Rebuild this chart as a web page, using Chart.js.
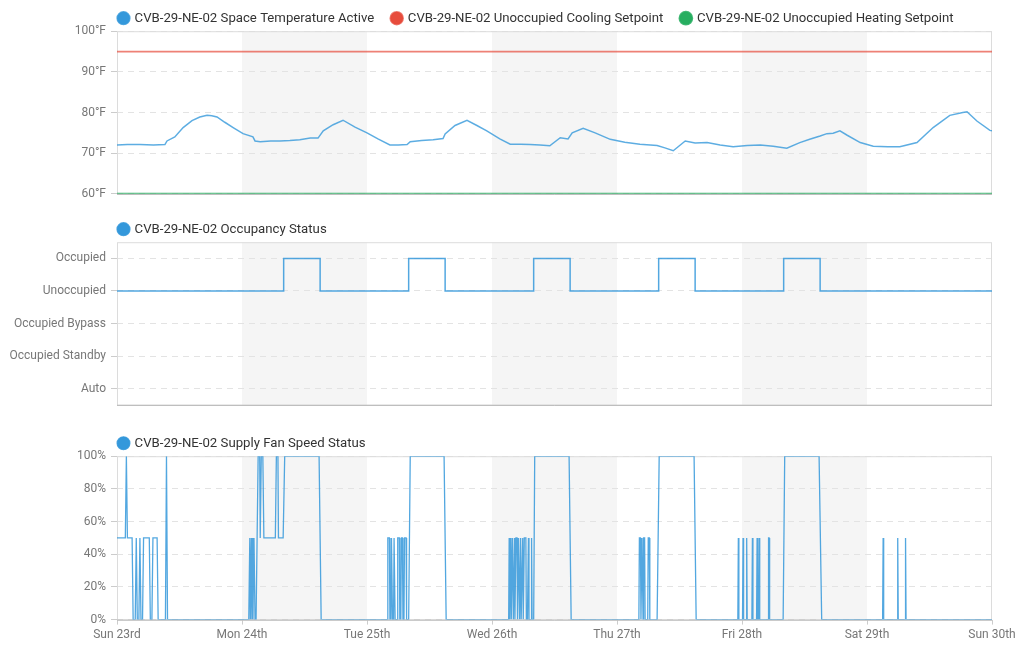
<!DOCTYPE html>
<html>
<head>
<meta charset="utf-8">
<script src="https://cdn.jsdelivr.net/npm/chart.js@4.4.1/dist/chart.umd.min.js"></script>
<style>
  html, body { margin: 0; padding: 0; background: #fff; }
  #wrap { position: relative; width: 1024px; height: 647px; overflow: hidden; }
  #wrap canvas { position: absolute; left: 0; }
</style>
</head>
<body>
<div id="wrap">
  <canvas id="temp-chart" width="1024" height="216" style="top:-10px"></canvas>
  <canvas id="occ-chart" width="1024" height="216" style="top:201px"></canvas>
  <canvas id="fan-chart" width="1024" height="232" style="top:415px"></canvas>
</div>
<script>
// x values are hours since Sun 23rd 00:00
const dayLabels = ['Sun 23rd', 'Mon 24th', 'Tue 25th', 'Wed 26th', 'Thu 27th', 'Fri 28th', 'Sat 29th', 'Sun 30th'];
const shadedDays = [1, 3, 5];

const tempSeries = [
  [0, 72.0], [2.0, 72.1], [4.4, 72.1], [7.0, 72.0], [9.2, 72.1], [9.6, 73.0], [11.1, 74.0], [12.7, 76.3],
  [14.4, 78.0], [15.9, 78.9], [17.3, 79.3], [18.2, 79.2], [19.2, 78.9], [20.7, 77.6], [22.3, 76.3],
  [24.2, 74.8], [26.1, 74.0], [26.5, 73.0], [27.5, 72.8], [29.5, 73.0], [31.3, 73.0], [33.2, 73.1],
  [35.1, 73.3], [37.1, 73.7], [38.6, 73.7], [39.6, 75.5], [41.5, 77.0], [43.4, 78.1], [45.7, 76.4],
  [48.0, 75.0], [50.1, 73.5], [52.4, 72.0], [54.0, 72.0], [55.7, 72.1], [56.3, 72.8], [58.5, 73.1],
  [60.7, 73.3], [62.6, 73.6], [63.0, 74.7], [64.9, 76.8], [67.2, 78.1], [69.1, 76.8], [71.0, 75.5],
  [73.5, 73.5], [75.5, 72.2], [77.5, 72.2], [79.3, 72.1], [81.2, 72.0], [83.1, 71.8], [85.1, 73.8],
  [86.6, 73.5], [87.4, 75.0], [89.5, 76.1], [91.8, 75.0], [94.7, 73.4], [97.5, 72.7], [100.4, 72.2],
  [103.7, 71.9], [105.2, 71.3], [106.8, 70.6], [109.1, 73.0], [111.0, 72.5], [113.3, 72.6],
  [115.8, 72.0], [118.3, 71.6], [121.0, 71.9], [123.5, 72.0], [126.0, 71.7], [128.6, 71.2],
  [131.1, 72.6], [133.0, 73.4], [135.0, 74.2], [136.3, 74.8], [137.5, 74.9], [138.8, 75.5],
  [140.2, 74.4], [142.7, 72.6], [145.2, 71.7], [148.0, 71.6], [150.3, 71.6], [153.6, 72.6],
  [156.7, 76.3], [159.9, 79.3], [162.4, 80.0], [163.2, 80.2], [165.1, 77.9], [167.6, 75.6], [168, 75.5]
];
const coolingSetpoint = 95;
const heatingSetpoint = 60;

const occupancyStates = ['Occupied', 'Unoccupied', 'Occupied Bypass', 'Occupied Standby', 'Auto'];
const occupancySeries = [
  [0, 'Unoccupied'],
  [32, 'Occupied'], [39, 'Unoccupied'],
  [56, 'Occupied'], [63, 'Unoccupied'],
  [80, 'Occupied'], [87, 'Unoccupied'],
  [104, 'Occupied'], [111, 'Unoccupied'],
  [128, 'Occupied'], [135, 'Unoccupied'],
  [168, 'Unoccupied']
];

const fanSeries = [
  [0, 50], [1.6, 50], [1.8, 100], [2.0, 50], [2.9, 50], [3.1, 0], [3.5, 0], [3.7, 50], [3.9, 0],
  [4.2, 0], [4.4, 50], [4.6, 0], [4.9, 0], [5.1, 50], [6.2, 50], [6.4, 0], [6.7, 0], [6.9, 50],
  [7.7, 50], [7.9, 0], [8.3, 0], [9.3, 0], [9.5, 100], [9.7, 0],
  [25.3, 0], [25.5, 50], [25.6, 0], [25.8, 50], [25.9, 0], [26.0, 50], [26.1, 0], [26.3, 50],
  [26.5, 0], [26.7, 0], [26.9, 50], [27.1, 100], [27.4, 100], [27.5, 50], [27.7, 100], [28.0, 100],
  [28.2, 50], [30.4, 50], [30.6, 100], [30.9, 100], [31.0, 50], [31.9, 50], [32.2, 100],
  [38.8, 100], [39.2, 0],
  [51.9, 0], [52.0, 50], [52.3, 50], [52.4, 0], [52.6, 0], [52.7, 50], [52.9, 0], [53.1, 0],
  [53.2, 50], [53.4, 0], [53.8, 0], [53.9, 50], [54.2, 50], [54.3, 0], [54.5, 0], [54.6, 50],
  [54.8, 50], [54.9, 0], [55.1, 0], [55.2, 50], [55.5, 50], [55.6, 0], [56.0, 0], [56.3, 100],
  [62.8, 100], [63.2, 0],
  [75.2, 0], [75.3, 50], [75.4, 0], [75.6, 50], [75.7, 0], [75.9, 50], [76.1, 0], [76.3, 50],
  [76.4, 0], [76.6, 50], [76.8, 50], [76.9, 0], [77.1, 50], [77.3, 0], [77.5, 50], [77.6, 0],
  [77.9, 50], [78.0, 0], [78.2, 50], [78.5, 50], [78.6, 0], [78.8, 0], [79.0, 50], [79.1, 0],
  [79.5, 0], [79.6, 50], [79.7, 0], [80.0, 0], [80.2, 100], [86.8, 100], [87.2, 0],
  [100.2, 0], [100.3, 50], [100.5, 50], [100.6, 0], [100.8, 50], [101.0, 0], [101.1, 50],
  [101.3, 50], [101.4, 0], [101.9, 0], [102.0, 50], [102.2, 50], [102.3, 0], [103.7, 0],
  [104.1, 100], [110.8, 100], [111.2, 0],
  [119.2, 0], [119.3, 50], [119.4, 0], [120.1, 0], [120.2, 50], [120.3, 0], [120.8, 0], [120.9, 50],
  [121.0, 0], [121.9, 0], [122.0, 50], [122.1, 0], [122.8, 0], [122.9, 50], [123.0, 0], [123.2, 0],
  [123.3, 50], [123.4, 0], [125.0, 0], [125.1, 50], [125.2, 50], [125.3, 0], [127.9, 0],
  [128.2, 100], [134.8, 100], [135.3, 0],
  [147.0, 0], [147.1, 50], [147.2, 0], [149.8, 0], [149.9, 50], [150.0, 0], [151.3, 0],
  [151.4, 50], [151.5, 0], [168, 0]
];

Chart.defaults.font.family = 'Roboto, "Noto Sans", sans-serif';
Chart.defaults.font.size = 12;
Chart.defaults.color = '#777';

const toPoints = (series) => series.map(([x, y]) => ({ x, y }));

// grey bands behind alternate days
const dayBands = {
  id: 'dayBands',
  beforeDraw(chart) {
    const { ctx, chartArea, scales } = chart;
    ctx.save();
    ctx.fillStyle = '#f5f5f5';
    shadedDays.forEach(d => {
      const x0 = scales.x.getPixelForValue(d * 24);
      const x1 = scales.x.getPixelForValue((d + 1) * 24);
      ctx.fillRect(x0, chartArea.top, x1 - x0, chartArea.bottom - chartArea.top);
    });
    ctx.restore();
  }
};

// thin frame around the plot area
const frame = {
  id: 'frame',
  beforeDatasetsDraw(chart) {
    const { ctx, chartArea: a } = chart;
    ctx.save();
    ctx.lineWidth = 1;
    ctx.strokeStyle = '#dcdcdc';
    ctx.strokeRect(a.left + 0.5, a.top + 0.5, a.right - a.left - 1, a.bottom - a.top);
    ctx.strokeStyle = '#b5b5b5';
    ctx.beginPath();
    ctx.moveTo(a.left, a.bottom + 0.5);
    ctx.lineTo(a.right, a.bottom + 0.5);
    ctx.stroke();
    ctx.restore();
  }
};

// put the legend just above the plot, flush with its left edge
const legendPlace = {
  id: 'legendPlace',
  afterLayout(chart) {
    const lg = chart.legend;
    if (!lg) return;
    const p = lg.options.labels.padding;
    lg.left = chart.chartArea.left + 2 - p;
    lg.top = chart.chartArea.top - 13 - p - 6.6;
  }
};

function legendOpts() {
  return {
    position: 'top',
    align: 'start',
    fullSize: false,
    labels: {
      usePointStyle: true,
      pointStyle: 'circle',
      boxWidth: 9,
      boxHeight: 9,
      padding: 18,
      color: '#333',
      font: { size: 13.2 }
    }
  };
}

function xAxis(showLabels) {
  return {
    type: 'linear',
    min: 0,
    max: 168,
    display: showLabels,
    grid: { drawOnChartArea: false, drawTicks: true, tickLength: 5, color: '#ccc' },
    border: { display: false },
    ticks: {
      stepSize: 24,
      autoSkip: false,
      maxRotation: 0,
      padding: 3,
      color: '#777',
      callback: (v) => dayLabels[v / 24]
    }
  };
}

function yGrid() {
  return { color: '#e3e3e3', tickColor: '#ccc', tickLength: 6, tickBorderDash: [] };
}

const fixWidth = (scale) => { scale.width = 117; };

new Chart(document.getElementById('temp-chart'), {
  type: 'line',
  data: {
    datasets: [{
      label: 'CVB-29-NE-02 Space Temperature Active',
      data: toPoints(tempSeries),
      borderColor: 'rgba(52,152,219,0.8)',
      backgroundColor: '#3498db',
      borderWidth: 1.5,
      pointRadius: 0
    }, {
      label: 'CVB-29-NE-02 Unoccupied Cooling Setpoint',
      data: [{ x: 0, y: coolingSetpoint }, { x: 168, y: coolingSetpoint }],
      borderColor: 'rgba(231,76,60,0.7)',
      backgroundColor: '#e74c3c',
      borderWidth: 1.8,
      pointRadius: 0
    }, {
      label: 'CVB-29-NE-02 Unoccupied Heating Setpoint',
      data: [{ x: 0, y: heatingSetpoint }, { x: 168, y: heatingSetpoint }],
      borderColor: 'rgba(39,174,96,0.85)',
      backgroundColor: '#27ae60',
      borderWidth: 2,
      pointRadius: 0
    }]
  },
  options: {
    responsive: false,
    animation: false,
    layout: { padding: { left: 0, right: 32, top: 0, bottom: 8 } },
    plugins: { legend: legendOpts(), tooltip: { enabled: false } },
    scales: {
      x: xAxis(false),
      y: {
        min: 60,
        max: 100,
        afterFit: fixWidth,
        grid: yGrid(),
        border: { display: false, dash: [6, 5] },
        ticks: { stepSize: 10, padding: 5, callback: (v) => v + '°F' }
      }
    }
  },
  plugins: [dayBands, frame, legendPlace]
});

new Chart(document.getElementById('occ-chart'), {
  type: 'line',
  data: {
    datasets: [{
      label: 'CVB-29-NE-02 Occupancy Status',
      data: toPoints(occupancySeries),
      borderColor: 'rgba(52,152,219,0.85)',
      backgroundColor: '#3498db',
      borderWidth: 1.5,
      pointRadius: 0,
      stepped: true
    }]
  },
  options: {
    responsive: false,
    animation: false,
    layout: { padding: { left: 0, right: 32, top: 0, bottom: 8 } },
    plugins: { legend: legendOpts(), tooltip: { enabled: false } },
    scales: {
      x: xAxis(false),
      y: {
        type: 'category',
        labels: occupancyStates,
        offset: true,
        afterFit: fixWidth,
        grid: Object.assign(yGrid(), { offset: false }),
        border: { display: false, dash: [6, 5] },
        ticks: { padding: 5 }
      }
    }
  },
  plugins: [dayBands, frame, legendPlace]
});

new Chart(document.getElementById('fan-chart'), {
  type: 'line',
  data: {
    datasets: [{
      label: 'CVB-29-NE-02 Supply Fan Speed Status',
      data: toPoints(fanSeries),
      borderColor: 'rgba(52,152,219,0.85)',
      backgroundColor: '#3498db',
      borderWidth: 1.3,
      pointRadius: 0
    }]
  },
  options: {
    responsive: false,
    animation: false,
    layout: { padding: { left: 0, right: 32, top: 0, bottom: 2 } },
    plugins: { legend: legendOpts(), tooltip: { enabled: false } },
    scales: {
      x: xAxis(true),
      y: {
        min: 0,
        max: 100,
        afterFit: fixWidth,
        grid: yGrid(),
        border: { display: false, dash: [6, 5] },
        ticks: { stepSize: 20, padding: 5, callback: (v) => v + '%' }
      }
    }
  },
  plugins: [dayBands, frame, legendPlace]
});
</script>
</body>
</html>
